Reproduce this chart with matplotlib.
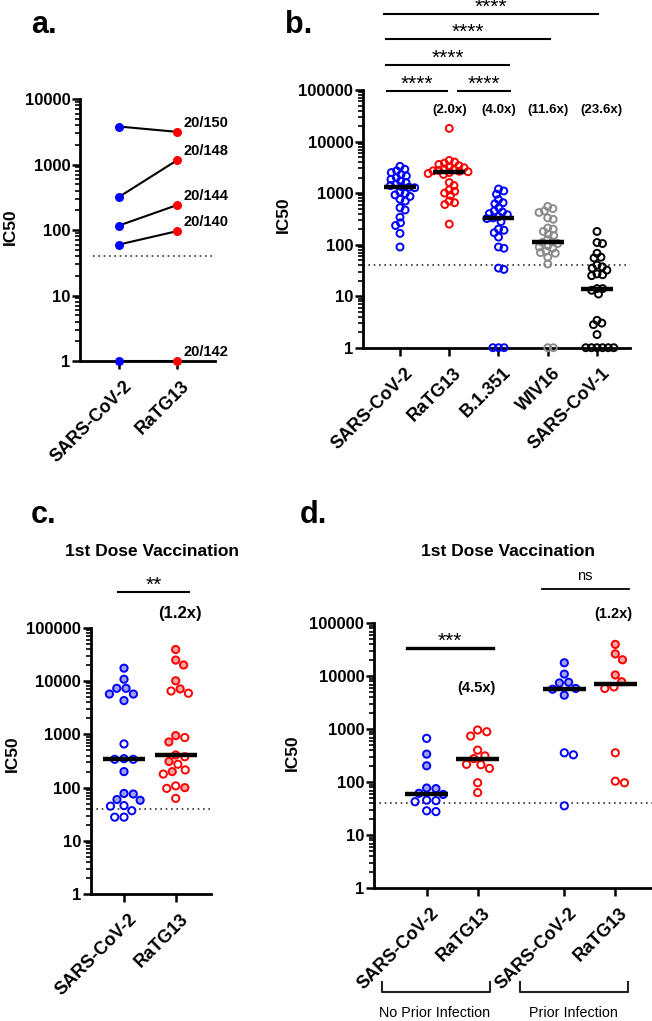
import numpy as np
import matplotlib
matplotlib.use("Agg")
import matplotlib.pyplot as plt
from matplotlib.ticker import LogLocator, NullFormatter
from matplotlib.transforms import blended_transform_factory, ScaledTranslation

plt.rcParams['font.family'] = ['Liberation Sans', 'DejaVu Sans']
plt.rcParams['font.weight'] = 'bold'

# panel a: paired samples
a_groups = ["SARS-CoV-2", "RaTG13"]
a_sars2 = [3800, 320, 117, 60, 1]
a_ratg13 = [3150, 1160, 240, 96, 1]
a_ids = ["20/150", "20/148", "20/144", "20/140", "20/142"]

# panel b
b_groups = ["SARS-CoV-2", "RaTG13", "B.1.351", "WIV16", "SARS-CoV-1"]
b_sars2 = [3300, 2900, 2700, 2500, 2300, 2150, 2000, 1850, 1700, 1600, 1480, 1400, 1330, 1300,
           1270, 1050, 980, 920, 860, 760, 700, 520, 470, 340, 265, 235, 165, 90]
b_ratg13 = [18000, 4300, 4000, 3800, 3600, 3400, 3250, 3100, 2950, 2850, 2750, 2700, 2650,
            2600, 2500, 2400, 2300, 1600, 1400, 1150, 1080, 1000, 900, 700, 650, 600, 250]
b_b1351 = [1200, 1100, 950, 750, 650, 620, 520, 450, 430, 400, 380, 350, 330,
           320, 280, 200, 190, 170, 140, 90, 85, 35, 33, 1, 1, 1]
b_wiv16 = [550, 500, 450, 420, 330, 310, 210, 200, 180, 160, 150, 125, 112,
           110, 105, 95, 90, 85, 75, 70, 68, 57, 42, 1, 1]
b_sars1 = [180, 110, 105, 68, 57, 55, 40, 37, 35, 32, 27, 26, 25, 14,
           14, 13, 11, 3.4, 3, 2.8, 1.8, 1, 1, 1, 1, 1, 1]
b_fold = ["", "(2.0x)", "(4.0x)", "(11.6x)", "(23.6x)"]
b_colors = ["#0000ff", "#ff0000", "#0000ff", "#8c8c8c", "#000000"]

# panel c: 1st dose, all
c_groups = ["SARS-CoV-2", "RaTG13"]
c_sars2 = [17400, 10800, 7300, 7300, 5700, 5700, 4300, 660, 350, 340, 340, 200,
           78, 76, 60, 58, 46, 45, 37, 28, 28]
c_sars2_fill = [1, 1, 1, 1, 1, 1, 1, 0, 1, 0, 0, 1, 1, 1, 1, 1, 0, 0, 0, 0, 0]
c_ratg13 = [39000, 24700, 20000, 10100, 7100, 6500, 5900, 945, 870, 720, 410, 380,
            310, 275, 215, 200, 180, 108, 100, 97, 63]
c_ratg13_fill = [1, 1, 1, 1, 1, 0, 0, 1, 0, 1, 1, 0, 1, 0, 0, 1, 0, 0, 1, 0, 0]

# panel d: split by prior infection
d_groups = ["SARS-CoV-2", "RaTG13", "SARS-CoV-2", "RaTG13"]
d_subsets = ["No Prior Infection", "Prior Infection"]
d_sars2_np = [675, 340, 205, 78, 76, 62, 59, 46, 45, 43, 29, 28]
d_sars2_np_fill = [0, 1, 1, 1, 1, 1, 1, 0, 0, 0, 0, 0]
d_ratg13_np = [970, 900, 745, 405, 315, 280, 218, 215, 183, 98, 64]
d_ratg13_np_fill = [0] * 11
d_sars2_p = [18000, 11000, 7700, 7500, 5900, 5700, 4400, 360, 330, 36]
d_sars2_p_fill = [1, 1, 1, 1, 1, 1, 1, 0, 0, 0]
d_ratg13_p = [40000, 26500, 20500, 10600, 7900, 6300, 5900, 360, 105, 98]
d_ratg13_p_fill = [1, 1, 1, 1, 1, 0, 0, 0, 0, 0]

light = {"#0000ff": "#a3a3ea", "#ff0000": "#f4a6a6"}

W, H = 652, 1021
fig = plt.figure(figsize=(W / 100, H / 100), dpi=100)


def box(x0, y0, x1, y1):
    # pixel box (top-left origin) -> figure fraction rect
    return [x0 / W, 1 - y1 / H, (x1 - x0) / W, (y1 - y0) / H]


def fx(x):
    return x / W


def fy(y):
    return 1 - y / H


def style_axes(ax, top, labels, xlim, xpos=None):
    ax.set_yscale('log')
    ax.set_ylim(1, top)
    ax.set_xlim(*xlim)
    ticks = [10 ** k for k in range(int(round(np.log10(top))) + 1)]
    ax.set_yticks(ticks, [str(t) for t in ticks])
    ax.yaxis.set_minor_locator(LogLocator(base=10, subs=np.arange(2, 10)))
    ax.yaxis.set_minor_formatter(NullFormatter())
    for s in ['top', 'right']:
        ax.spines[s].set_visible(False)
    for s in ['left', 'bottom']:
        ax.spines[s].set_linewidth(2)
    ax.tick_params(axis='y', which='major', length=6, width=1.8, labelsize=12, pad=1)
    ax.tick_params(axis='y', which='minor', length=3.5, width=1.2)
    ax.tick_params(axis='x', length=6, width=1.8, labelsize=13, pad=6)
    ax.set_xticks(xpos if xpos is not None else range(len(labels)))
    ax.set_xticklabels(labels, rotation=45, ha='right', va='top', rotation_mode='anchor')
    shift = ScaledTranslation(4 / 100, 0, fig.dpi_scale_trans)
    for lab in ax.get_xticklabels():
        lab.set_transform(lab.get_transform() + shift)
    ax.patch.set_alpha(0)


def swarm(ax, x0, vals, diam):
    vals = np.asarray(vals, float)
    pts = ax.transData.transform(np.column_stack([np.full(len(vals), x0), vals]))
    ppu = ax.transData.transform([(1, 1)])[0][0] - ax.transData.transform([(0, 1)])[0][0]
    order = np.argsort(-vals, kind='stable')
    placed = []
    off = np.zeros(len(vals))
    for i in order:
        y = pts[i, 1]
        cands = [0.0]
        for px, py in placed:
            dy = abs(py - y)
            if dy < diam:
                dx = np.sqrt(diam ** 2 - dy ** 2)
                cands += [px + dx, px - dx]
        cands = sorted(cands, key=lambda c: (round(abs(c), 3), -c))
        for c in cands:
            if all((c - px) ** 2 + (y - py) ** 2 >= diam ** 2 - 1e-6 for px, py in placed):
                break
        placed.append((c, y))
        off[i] = c
    return x0 + off / ppu


def dots(ax, x0, vals, color, diam, fill=None, half=0.32, ms=5.2):
    xs = swarm(ax, x0, vals, diam)
    if fill is None:
        fill = [0] * len(vals)
    fcs = [light.get(color, 'none') if f else 'none' for f in fill]
    ax.scatter(xs, vals, s=ms ** 2, facecolors=fcs, edgecolors=color, linewidths=1.4,
               clip_on=False, zorder=3)
    ax.hlines(np.median(vals), x0 - half, x0 + half, color='black', lw=3.2, zorder=5)


def dotted(ax, x0=None, x1=None):
    if x0 is None:
        ax.axhline(40, color='#333333', lw=1.2, ls=(0, (1, 2.2)), zorder=1)
    else:
        ax.hlines(40, x0, x1, color='#333333', lw=1.2, ls=(0, (1, 2.2)), zorder=1)


def ylab(x, y):
    fig.text(fx(x), fy(y), "IC50", rotation=90, ha='center', va='center', fontsize=12.5)


def sig(ax, x0, x1, yfrac, label, lw=1.5, fs=15, weight='normal'):
    tr = blended_transform_factory(ax.transData, ax.transAxes)
    ax.plot([x0, x1], [yfrac, yfrac], color='black', lw=lw, transform=tr, clip_on=False)
    ax.text((x0 + x1) / 2, yfrac + 0.004, label, transform=tr, ha='center', va='baseline',
            fontsize=fs, fontweight=weight)


# ---------------- panel a
axa = fig.add_axes(box(80, 99, 215, 361))
style_axes(axa, 1e4, a_groups, (-0.672, 1.655))
dotted(axa, -0.45, 1.62)
for s, r, lab in zip(a_sars2, a_ratg13, a_ids):
    axa.plot([0, 1], [s, r], color='black', lw=1.5, zorder=2, clip_on=False)
    axa.annotate(lab, (1, r), xytext=(4.5, 6.5), textcoords='offset points',
                 ha='left', va='center', fontsize=10.5)
axa.scatter(np.zeros(len(a_sars2)), a_sars2, s=30, color='#0000ff', zorder=3, clip_on=False)
axa.scatter(np.ones(len(a_ratg13)), a_ratg13, s=30, color='#ff0000', zorder=3, clip_on=False)
ylab(10, 227)
fig.text(fx(31), fy(33), "a.", fontsize=22, va='baseline')

# ---------------- panel b
axb = fig.add_axes(box(363, 90, 630, 347.7))
style_axes(axb, 1e5, b_groups, (-0.751, 4.67))
dotted(axb)
for i, (vals, col) in enumerate(zip([b_sars2, b_ratg13, b_b1351, b_wiv16, b_sars1], b_colors)):
    dots(axb, i, vals, col, diam=5.6, half=0.32, ms=5.0)
trb = blended_transform_factory(axb.transData, axb.transAxes)
for i, f in enumerate(b_fold):
    if f:
        axb.text(i + (0.1 if i == 4 else 0), 0.922, f, transform=trb,
                 ha='center', va='center', fontsize=9.5)
sig(axb, -0.26, 0.95, 0.997, "****")
sig(axb, 1.18, 2.23, 0.997, "****")
sig(axb, -0.28, 2.21, 1.097, "****")
sig(axb, -0.28, 3.05, 1.197, "****")
sig(axb, -0.32, 4.02, 1.294, "****")
ylab(283, 215)
fig.text(fx(285), fy(33), "b.", fontsize=22, va='baseline')

# ---------------- panel c
axc = fig.add_axes(box(90.7, 627.7, 210.7, 894.3))
style_axes(axc, 1e5, c_groups, (-0.644, 1.677))
dotted(axc)
dots(axc, 0, c_sars2, '#0000ff', diam=9.3, fill=c_sars2_fill, half=0.41)
dots(axc, 1, c_ratg13, '#ff0000', diam=9.3, fill=c_ratg13_fill, half=0.41)
sig(axc, -0.12, 1.26, 1.134, "**")
axc.text(1.08, 1.055, "(1.2x)", transform=blended_transform_factory(axc.transData, axc.transAxes),
         ha='center', va='center', fontsize=12)
fig.text(fx(152), fy(552), "1st Dose Vaccination", ha='center', va='center', fontsize=12.5)
ylab(12, 754)
fig.text(fx(31), fy(523), "c.", fontsize=22, va='baseline')

# ---------------- panel d
dpos = [0, 1, 2.7, 3.7]
axd = fig.add_axes(box(374, 623.3, 652, 888.3))
style_axes(axd, 1e5, d_groups, (-1.033, 4.42), xpos=dpos)
dotted(axd)
dcols = ['#0000ff', '#ff0000', '#0000ff', '#ff0000']
for x0, vals, fl, col in zip(dpos, [d_sars2_np, d_ratg13_np, d_sars2_p, d_ratg13_p],
                             [d_sars2_np_fill, d_ratg13_np_fill, d_sars2_p_fill, d_ratg13_p_fill],
                             dcols):
    dots(axd, x0, vals, col, diam=9.3, fill=fl, half=0.42)
sig(axd, -0.386, 1.294, 0.908, "***", lw=2.4)
trd = blended_transform_factory(axd.transData, axd.transAxes)
axd.plot([2.255, 3.97], [1.128, 1.128], color='black', lw=1.3, transform=trd, clip_on=False)
axd.text(3.10, 1.178, "ns", transform=trd, ha='center', va='center', fontsize=10.5,
         fontweight='normal')
axd.text(0.986, 0.756, "(4.5x)", transform=trd, ha='center', va='center', fontsize=10.5)
axd.text(3.67, 1.035, "(1.2x)", transform=trd, ha='center', va='center', fontsize=10.5)
fig.text(fx(508), fy(551), "1st Dose Vaccination", ha='center', va='center', fontsize=12.5)
ylab(292, 753)
fig.text(fx(300), fy(523), "d.", fontsize=22, va='baseline')

# brackets under panel d
trf = blended_transform_factory(axd.transData, fig.transFigure)
for (bx0, bx1, tx), name in zip([(-0.88, 1.24, 0.16), (1.83, 3.94, 2.87)], d_subsets):
    axd.plot([bx0, bx0, bx1, bx1], [fy(982), fy(992), fy(992), fy(982)], color='#222222',
             lw=1.5, transform=trf, clip_on=False)
    axd.text(tx, fy(1013), name, transform=trf, ha='center', va='center', fontsize=10.3,
             fontweight='normal')

fig.savefig("out.png", dpi=100)
